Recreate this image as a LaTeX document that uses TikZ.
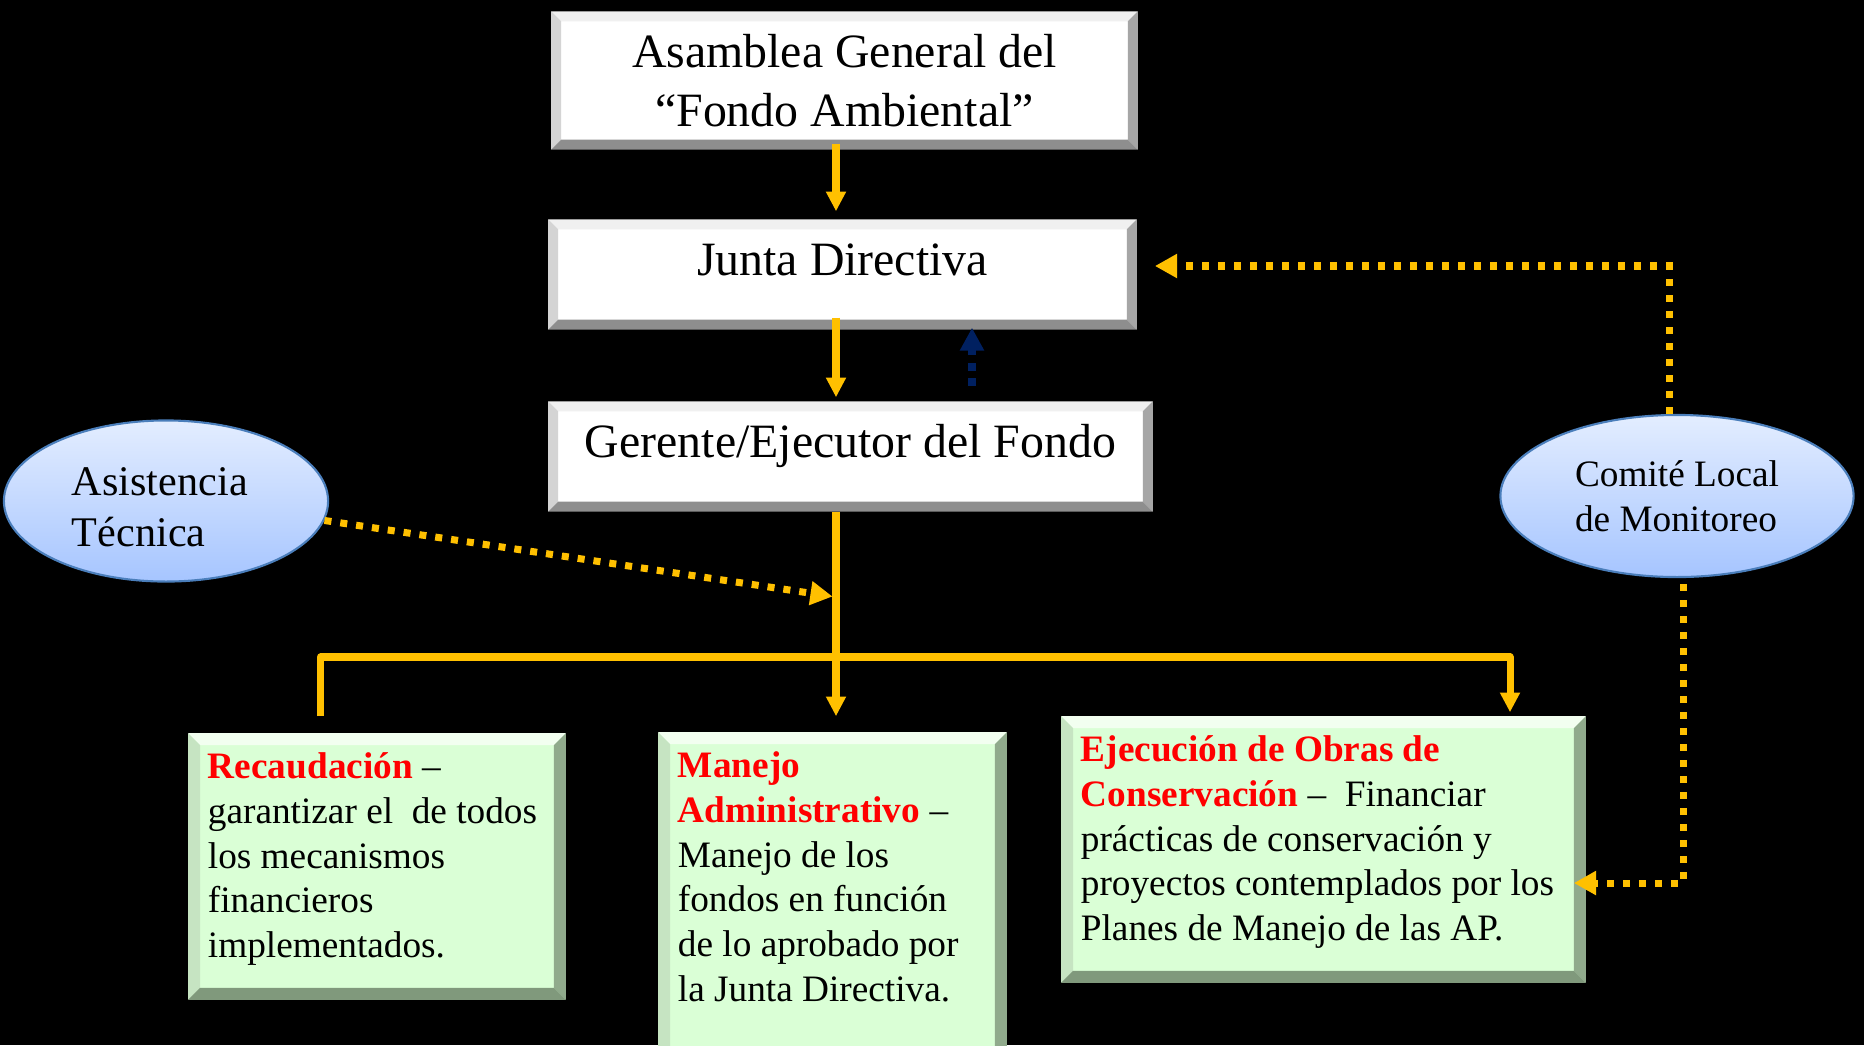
\documentclass[tikz,border=0pt]{standalone}
\usepackage{fontspec}
\setmainfont{Liberation Serif}
\usetikzlibrary{arrows.meta,shapes.geometric}
\definecolor{gold}{HTML}{FFC000}
\definecolor{navy}{HTML}{002060}
\definecolor{mint}{HTML}{DAFFD6}
\definecolor{skytop}{HTML}{E3EDFF}
\definecolor{skybot}{HTML}{A6C5FF}
\definecolor{skyline}{HTML}{4A7EBB}
\definecolor{bwt}{HTML}{F0F0F0}
\definecolor{bwl}{HTML}{D4D4D4}
\definecolor{bwr}{HTML}{A6A6A6}
\definecolor{bwb}{HTML}{8E8E8E}
\definecolor{bgt}{HTML}{F2FFF0}
\definecolor{bgl}{HTML}{C6E4C2}
\definecolor{bgr}{HTML}{90AA8C}
\definecolor{bgb}{HTML}{80997C}
\newcommand\rtitle[1]{\textcolor{red}{\textbf{#1}}}
\newcommand\boxtext[3]{\parbox[c][#1][t]{#2}{\raggedright #3}}
\begin{document}
\begin{tikzpicture}[x=0.01cm,y=-0.01cm,
  hdr/.style={fill=white,inner sep=0pt,align=center,font=\fontsize{13.6}{16.6}\selectfont},
  grn/.style={fill=mint,inner sep=1.9mm,font=\fontsize{10.6}{12.7}\selectfont},
  oval/.style={ellipse,draw=skyline,line width=0.6pt,top color=skytop,bottom color=skybot,inner sep=0pt,align=left},
  yline/.style={gold,line width=2pt,line join=round},
  yarr/.style={yline,-{Triangle[width=5.4pt,length=5.6pt]}},
  ydot/.style={gold,line width=2pt,dash pattern=on 2pt off 2.55pt,-{Triangle[width=6.5pt,length=6.3pt]}},
  bdot/.style={navy,line width=2.2pt,dash pattern=on 2.2pt off 2.2pt,-{Triangle[width=6.5pt,length=6.5pt]}}]
\fill[black] (0,0) rectangle (1864,1045);
\useasboundingbox (0,0) rectangle (1864,1045);

\node[hdr,minimum width=5.85cm,minimum height=1.37cm] (asam) at (844.5,80.5) {Asamblea General del\\“Fondo Ambiental”};
\node[hdr,text height=9.5pt,text depth=9pt,minimum width=5.87cm,minimum height=1.09cm] (junta) at (842.5,274.5) {Junta Directiva};
\node[hdr,text height=9.5pt,text depth=9pt,minimum width=6.03cm,minimum height=1.09cm] (ger) at (850.5,456.5) {Gerente/Ejecutor del Fondo};

\node[grn] (rec) at (377,866.5) {\boxtext{22.7mm}{33.8mm}{\rtitle{Recaudación} –\\garantizar el~ de todos\\los mecanismos\\financieros\\implementados.}};
\node[grn] (man) at (832.5,903) {\boxtext{30.2mm}{30.9mm}{\rtitle{Manejo}\\\rtitle{Administrativo} –\\Manejo de los\\fondos en función\\de lo aprobado por\\la Junta Directiva.}};
\node[grn] (eje) at (1323.5,849.5) {\boxtext{22.7mm}{48.5mm}{\rtitle{Ejecución de Obras de}\\\rtitle{Conservación} –~ Financiar\\prácticas de conservación y\\proyectos contemplados por los\\Planes de Manejo de las AP.}};

\node[oval,minimum width=3.24cm,minimum height=1.61cm,text width=1.88cm,text height=11.6pt,font=\fontsize{12}{14.4}\selectfont] (asis) at (166,501) {Asistencia\\Técnica};
\node[oval,minimum width=3.53cm,minimum height=1.62cm,font=\fontsize{10.6}{12.8}\selectfont] (com) at (1677,496) {Comité Local\\de Monitoreo};

% bevelled edges
\foreach \n/\b/\ct/\cl/\cr/\cb in {asam/1mm/bwt/bwl/bwr/bwb, junta/1mm/bwt/bwl/bwr/bwb, ger/1mm/bwt/bwl/bwr/bwb,
    rec/1.2mm/bgt/bgl/bgr/bgb, man/1.2mm/bgt/bgl/bgr/bgb, eje/1.2mm/bgt/bgl/bgr/bgb} {
  \fill[\ct] (\n.north west) -- (\n.north east) -- ([shift={(-\b,-\b)}]\n.north east) -- ([shift={(\b,-\b)}]\n.north west) -- cycle;
  \fill[\cl] (\n.north west) -- ([shift={(\b,-\b)}]\n.north west) -- ([shift={(\b,\b)}]\n.south west) -- (\n.south west) -- cycle;
  \fill[\cr] (\n.north east) -- ([shift={(-\b,-\b)}]\n.north east) -- ([shift={(-\b,\b)}]\n.south east) -- (\n.south east) -- cycle;
  \fill[\cb] (\n.south west) -- ([shift={(\b,\b)}]\n.south west) -- ([shift={(-\b,\b)}]\n.south east) -- (\n.south east) -- cycle;
}

\coordinate (split) at (836,657);
\coordinate (lft) at (320.5,657);
\coordinate (rgt) at (1510,657);
\coordinate (tech) at (836,597);
\coordinate (fb) at (972,386);

\draw[yarr,shorten <=-0.6mm,shorten >=0.8mm] (asam.south -| split) -- (junta.north -| split);
\draw[yarr,shorten <=-1.2mm,shorten >=0.4mm] (junta.south -| split) -- (ger.north -| split);
\draw[yarr,shorten >=1.6mm] (ger.south -| split) -- (man.north -| split);
\draw[yarr,shorten <=1.7mm,shorten >=0.4mm] (rec.north -| lft) -- (lft) -- (rgt) -- (eje.north -| rgt);
\draw[ydot,shorten >=0.35mm] (asis.-7.5) -- (tech);
\draw[ydot] ([xshift=-0.8mm]com.north) |- ([xshift=1.8mm,yshift=0.85mm]junta.east);
\draw[ydot,shorten <=0.6mm] ([xshift=0.6mm]com.south) |- ([xshift=-1.2mm,yshift=-3.35mm]eje.east);
\draw[bdot,shorten >=-0.2mm] (fb) -- (junta.south -| fb);
\end{tikzpicture}
\end{document}
